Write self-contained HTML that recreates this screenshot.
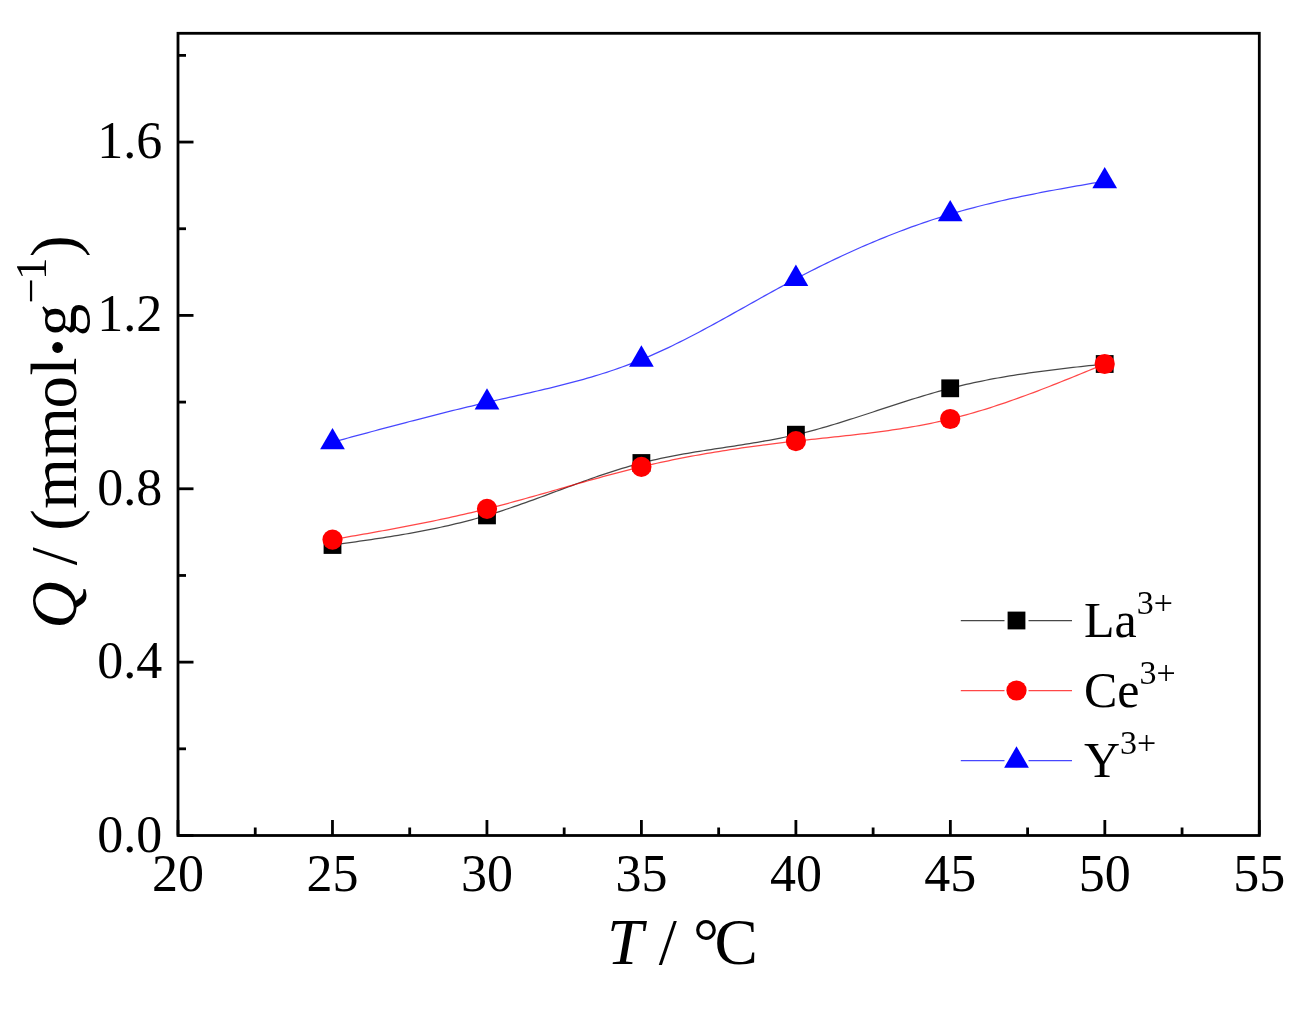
<!DOCTYPE html>
<html><head><meta charset="utf-8"><style>
html,body{margin:0;padding:0;background:#fff;width:1314px;height:1011px;overflow:hidden}
svg{position:absolute;left:0;top:0;will-change:transform}
.t{font-family:"Liberation Serif",serif;font-size:52px;fill:#000}
.sup{font-size:34px}
.lg{font-family:"Liberation Serif",serif;font-size:50px;fill:#000}
.ti{font-family:"Liberation Serif",serif;font-size:65px;fill:#000}
.sup2{font-size:45px}
</style></head><body>
<svg width="1314" height="1011" viewBox="0 0 1314 1011">
<rect x="178.0" y="33.3" width="1081.3" height="802.2" fill="none" stroke="#000" stroke-width="2.8"/>
<line x1="178.00" y1="835.5" x2="178.00" y2="820.0" stroke="#000" stroke-width="2.8"/>
<line x1="332.47" y1="835.5" x2="332.47" y2="820.0" stroke="#000" stroke-width="2.8"/>
<line x1="486.94" y1="835.5" x2="486.94" y2="820.0" stroke="#000" stroke-width="2.8"/>
<line x1="641.41" y1="835.5" x2="641.41" y2="820.0" stroke="#000" stroke-width="2.8"/>
<line x1="795.89" y1="835.5" x2="795.89" y2="820.0" stroke="#000" stroke-width="2.8"/>
<line x1="950.36" y1="835.5" x2="950.36" y2="820.0" stroke="#000" stroke-width="2.8"/>
<line x1="1104.83" y1="835.5" x2="1104.83" y2="820.0" stroke="#000" stroke-width="2.8"/>
<line x1="1259.30" y1="835.5" x2="1259.30" y2="820.0" stroke="#000" stroke-width="2.8"/>
<line x1="255.24" y1="835.5" x2="255.24" y2="827.5" stroke="#000" stroke-width="2.8"/>
<line x1="409.71" y1="835.5" x2="409.71" y2="827.5" stroke="#000" stroke-width="2.8"/>
<line x1="564.18" y1="835.5" x2="564.18" y2="827.5" stroke="#000" stroke-width="2.8"/>
<line x1="718.65" y1="835.5" x2="718.65" y2="827.5" stroke="#000" stroke-width="2.8"/>
<line x1="873.12" y1="835.5" x2="873.12" y2="827.5" stroke="#000" stroke-width="2.8"/>
<line x1="1027.59" y1="835.5" x2="1027.59" y2="827.5" stroke="#000" stroke-width="2.8"/>
<line x1="1182.06" y1="835.5" x2="1182.06" y2="827.5" stroke="#000" stroke-width="2.8"/>
<line x1="178.0" y1="835.50" x2="193.5" y2="835.50" stroke="#000" stroke-width="2.8"/>
<line x1="178.0" y1="662.14" x2="193.5" y2="662.14" stroke="#000" stroke-width="2.8"/>
<line x1="178.0" y1="488.78" x2="193.5" y2="488.78" stroke="#000" stroke-width="2.8"/>
<line x1="178.0" y1="315.42" x2="193.5" y2="315.42" stroke="#000" stroke-width="2.8"/>
<line x1="178.0" y1="142.06" x2="193.5" y2="142.06" stroke="#000" stroke-width="2.8"/>
<line x1="178.0" y1="748.82" x2="186.0" y2="748.82" stroke="#000" stroke-width="2.8"/>
<line x1="178.0" y1="575.46" x2="186.0" y2="575.46" stroke="#000" stroke-width="2.8"/>
<line x1="178.0" y1="402.10" x2="186.0" y2="402.10" stroke="#000" stroke-width="2.8"/>
<line x1="178.0" y1="228.74" x2="186.0" y2="228.74" stroke="#000" stroke-width="2.8"/>
<line x1="178.0" y1="55.38" x2="186.0" y2="55.38" stroke="#000" stroke-width="2.8"/>
<text x="178.00" y="891.4" text-anchor="middle" class="t">20</text>
<text x="332.47" y="891.4" text-anchor="middle" class="t">25</text>
<text x="486.94" y="891.4" text-anchor="middle" class="t">30</text>
<text x="641.41" y="891.4" text-anchor="middle" class="t">35</text>
<text x="795.89" y="891.4" text-anchor="middle" class="t">40</text>
<text x="950.36" y="891.4" text-anchor="middle" class="t">45</text>
<text x="1104.83" y="891.4" text-anchor="middle" class="t">50</text>
<text x="1259.30" y="891.4" text-anchor="middle" class="t">55</text>
<text x="162.3" y="851.50" text-anchor="end" class="t">0.0</text>
<text x="162.3" y="678.14" text-anchor="end" class="t">0.4</text>
<text x="162.3" y="504.78" text-anchor="end" class="t">0.8</text>
<text x="162.3" y="331.42" text-anchor="end" class="t">1.2</text>
<text x="162.3" y="158.06" text-anchor="end" class="t">1.6</text>
<path d="M332.50,545.00 L336.36,544.47 L340.23,543.93 L344.09,543.40 L347.95,542.86 L351.81,542.32 L355.68,541.78 L359.54,541.23 L363.40,540.67 L367.26,540.11 L371.12,539.55 L374.99,538.97 L378.85,538.39 L382.71,537.79 L386.57,537.19 L390.44,536.58 L394.30,535.95 L398.16,535.31 L402.02,534.66 L405.89,534.00 L409.75,533.31 L413.61,532.62 L417.48,531.91 L421.34,531.18 L425.20,530.43 L429.06,529.66 L432.93,528.88 L436.79,528.07 L440.65,527.25 L444.51,526.40 L448.38,525.53 L452.24,524.63 L456.10,523.71 L459.96,522.77 L463.82,521.80 L467.69,520.80 L471.55,519.78 L475.41,518.73 L479.27,517.65 L483.14,516.54 L487.00,515.40 L490.86,514.23 L494.72,513.03 L498.58,511.80 L502.44,510.55 L506.30,509.27 L510.16,507.98 L514.02,506.66 L517.88,505.32 L521.74,503.96 L525.60,502.59 L529.46,501.21 L533.32,499.81 L537.18,498.40 L541.04,496.99 L544.90,495.57 L548.76,494.14 L552.62,492.71 L556.48,491.28 L560.34,489.85 L564.20,488.42 L568.06,487.00 L571.92,485.58 L575.78,484.17 L579.64,482.76 L583.50,481.37 L587.36,479.99 L591.22,478.63 L595.08,477.28 L598.94,475.95 L602.80,474.64 L606.66,473.35 L610.52,472.09 L614.38,470.84 L618.24,469.63 L622.10,468.44 L625.96,467.29 L629.82,466.16 L633.68,465.07 L637.54,464.02 L641.40,463.00 L645.26,462.02 L649.12,461.08 L652.99,460.17 L656.85,459.29 L660.71,458.45 L664.57,457.64 L668.44,456.85 L672.30,456.09 L676.16,455.36 L680.02,454.65 L683.89,453.96 L687.75,453.28 L691.61,452.63 L695.48,451.99 L699.34,451.36 L703.20,450.75 L707.06,450.14 L710.92,449.54 L714.79,448.95 L718.65,448.37 L722.51,447.78 L726.38,447.20 L730.24,446.61 L734.10,446.02 L737.96,445.43 L741.82,444.83 L745.69,444.22 L749.55,443.60 L753.41,442.97 L757.27,442.32 L761.14,441.66 L765.00,440.98 L768.86,440.29 L772.72,439.57 L776.59,438.82 L780.45,438.06 L784.31,437.26 L788.17,436.44 L792.04,435.59 L795.90,434.70 L799.76,433.78 L803.62,432.83 L807.47,431.85 L811.33,430.84 L815.19,429.80 L819.04,428.74 L822.90,427.65 L826.76,426.54 L830.62,425.40 L834.48,424.25 L838.33,423.08 L842.19,421.89 L846.05,420.69 L849.90,419.47 L853.76,418.24 L857.62,417.00 L861.48,415.76 L865.34,414.50 L869.19,413.24 L873.05,411.98 L876.91,410.71 L880.76,409.44 L884.62,408.18 L888.48,406.91 L892.34,405.65 L896.20,404.40 L900.05,403.15 L903.91,401.91 L907.77,400.68 L911.62,399.47 L915.48,398.26 L919.34,397.08 L923.20,395.90 L927.06,394.75 L930.91,393.62 L934.77,392.50 L938.63,391.42 L942.49,390.35 L946.34,389.31 L950.20,388.30 L954.16,387.29 L958.12,386.31 L962.08,385.36 L966.05,384.44 L970.01,383.55 L973.97,382.68 L977.93,381.84 L981.89,381.03 L985.85,380.24 L989.82,379.47 L993.78,378.73 L997.74,378.01 L1001.70,377.31 L1005.66,376.63 L1009.62,375.97 L1013.58,375.32 L1017.55,374.70 L1021.51,374.10 L1025.47,373.51 L1029.43,372.93 L1033.39,372.38 L1037.35,371.83 L1041.32,371.30 L1045.28,370.78 L1049.24,370.28 L1053.20,369.78 L1057.16,369.30 L1061.12,368.82 L1065.08,368.36 L1069.05,367.90 L1073.01,367.45 L1076.97,367.00 L1080.93,366.56 L1084.89,366.13 L1088.85,365.70 L1092.82,365.27 L1096.78,364.85 L1100.74,364.42 L1104.70,364.00" fill="none" stroke="#000" stroke-width="1.25" stroke-opacity="0.72"/>
<rect x="323.60" y="536.10" width="17.8" height="17.8" fill="#000"/>
<rect x="478.10" y="506.50" width="17.8" height="17.8" fill="#000"/>
<rect x="632.50" y="454.10" width="17.8" height="17.8" fill="#000"/>
<rect x="787.00" y="425.80" width="17.8" height="17.8" fill="#000"/>
<rect x="941.30" y="379.40" width="17.8" height="17.8" fill="#000"/>
<rect x="1095.80" y="355.10" width="17.8" height="17.8" fill="#000"/>
<path d="M332.50,539.60 L336.36,538.93 L340.23,538.26 L344.09,537.58 L347.95,536.91 L351.81,536.24 L355.68,535.56 L359.54,534.88 L363.40,534.20 L367.26,533.51 L371.12,532.83 L374.99,532.14 L378.85,531.44 L382.71,530.74 L386.57,530.03 L390.44,529.32 L394.30,528.61 L398.16,527.89 L402.02,527.16 L405.89,526.42 L409.75,525.68 L413.61,524.93 L417.48,524.18 L421.34,523.41 L425.20,522.64 L429.06,521.86 L432.93,521.06 L436.79,520.26 L440.65,519.45 L444.51,518.63 L448.38,517.80 L452.24,516.95 L456.10,516.10 L459.96,515.23 L463.82,514.35 L467.69,513.46 L471.55,512.56 L475.41,511.64 L479.27,510.71 L483.14,509.76 L487.00,508.80 L490.86,507.83 L494.72,506.84 L498.58,505.84 L502.44,504.82 L506.30,503.80 L510.16,502.76 L514.02,501.71 L517.88,500.66 L521.74,499.59 L525.60,498.52 L529.46,497.44 L533.32,496.36 L537.18,495.27 L541.04,494.17 L544.90,493.08 L548.76,491.98 L552.62,490.87 L556.48,489.77 L560.34,488.67 L564.20,487.56 L568.06,486.46 L571.92,485.36 L575.78,484.26 L579.64,483.17 L583.50,482.08 L587.36,480.99 L591.22,479.91 L595.08,478.84 L598.94,477.78 L602.80,476.72 L606.66,475.67 L610.52,474.64 L614.38,473.61 L618.24,472.60 L622.10,471.60 L625.96,470.61 L629.82,469.63 L633.68,468.67 L637.54,467.73 L641.40,466.80 L645.26,465.89 L649.12,464.99 L652.99,464.12 L656.85,463.25 L660.71,462.41 L664.57,461.58 L668.44,460.77 L672.30,459.97 L676.16,459.19 L680.02,458.42 L683.89,457.67 L687.75,456.93 L691.61,456.20 L695.48,455.49 L699.34,454.80 L703.20,454.11 L707.06,453.44 L710.92,452.78 L714.79,452.14 L718.65,451.51 L722.51,450.89 L726.38,450.28 L730.24,449.68 L734.10,449.10 L737.96,448.53 L741.82,447.96 L745.69,447.41 L749.55,446.87 L753.41,446.34 L757.27,445.82 L761.14,445.31 L765.00,444.81 L768.86,444.31 L772.72,443.83 L776.59,443.35 L780.45,442.89 L784.31,442.43 L788.17,441.98 L792.04,441.54 L795.90,441.10 L799.76,440.67 L803.62,440.25 L807.47,439.83 L811.33,439.42 L815.19,439.01 L819.04,438.61 L822.90,438.20 L826.76,437.80 L830.62,437.39 L834.48,436.98 L838.33,436.57 L842.19,436.16 L846.05,435.74 L849.90,435.31 L853.76,434.88 L857.62,434.44 L861.48,433.99 L865.34,433.54 L869.19,433.07 L873.05,432.59 L876.91,432.09 L880.76,431.59 L884.62,431.07 L888.48,430.53 L892.34,429.98 L896.20,429.41 L900.05,428.82 L903.91,428.21 L907.77,427.58 L911.62,426.92 L915.48,426.25 L919.34,425.55 L923.20,424.83 L927.06,424.08 L930.91,423.31 L934.77,422.50 L938.63,421.67 L942.49,420.81 L946.34,419.92 L950.20,419.00 L954.16,418.02 L958.12,417.00 L962.08,415.96 L966.05,414.88 L970.01,413.77 L973.97,412.63 L977.93,411.46 L981.89,410.26 L985.85,409.04 L989.82,407.79 L993.78,406.51 L997.74,405.21 L1001.70,403.89 L1005.66,402.54 L1009.62,401.17 L1013.58,399.78 L1017.55,398.37 L1021.51,396.94 L1025.47,395.49 L1029.43,394.03 L1033.39,392.55 L1037.35,391.05 L1041.32,389.53 L1045.28,388.01 L1049.24,386.47 L1053.20,384.91 L1057.16,383.35 L1061.12,381.77 L1065.08,380.19 L1069.05,378.59 L1073.01,376.99 L1076.97,375.38 L1080.93,373.77 L1084.89,372.15 L1088.85,370.52 L1092.82,368.90 L1096.78,367.27 L1100.74,365.63 L1104.70,364.00" fill="none" stroke="#f00" stroke-width="1.25" stroke-opacity="0.72"/>
<circle cx="332.50" cy="539.60" r="10.1" fill="#f00"/>
<circle cx="487.00" cy="508.80" r="10.1" fill="#f00"/>
<circle cx="641.40" cy="466.80" r="10.1" fill="#f00"/>
<circle cx="795.90" cy="441.10" r="10.1" fill="#f00"/>
<circle cx="950.20" cy="419.00" r="10.1" fill="#f00"/>
<circle cx="1104.70" cy="364.00" r="10.1" fill="#f00"/>
<path d="M332.50,442.20 L336.36,441.15 L340.23,440.11 L344.09,439.06 L347.95,438.01 L351.81,436.97 L355.68,435.93 L359.54,434.88 L363.40,433.84 L367.26,432.80 L371.12,431.76 L374.99,430.73 L378.85,429.69 L382.71,428.66 L386.57,427.63 L390.44,426.61 L394.30,425.58 L398.16,424.56 L402.02,423.55 L405.89,422.53 L409.75,421.52 L413.61,420.52 L417.48,419.52 L421.34,418.52 L425.20,417.52 L429.06,416.54 L432.93,415.55 L436.79,414.57 L440.65,413.60 L444.51,412.63 L448.38,411.67 L452.24,410.71 L456.10,409.76 L459.96,408.82 L463.82,407.88 L467.69,406.95 L471.55,406.03 L475.41,405.11 L479.27,404.20 L483.14,403.30 L487.00,402.40 L490.86,401.51 L494.72,400.63 L498.58,399.76 L502.44,398.89 L506.30,398.02 L510.16,397.15 L514.02,396.28 L517.88,395.41 L521.74,394.54 L525.60,393.67 L529.46,392.79 L533.32,391.91 L537.18,391.01 L541.04,390.11 L544.90,389.20 L548.76,388.28 L552.62,387.35 L556.48,386.40 L560.34,385.44 L564.20,384.46 L568.06,383.47 L571.92,382.45 L575.78,381.42 L579.64,380.36 L583.50,379.29 L587.36,378.19 L591.22,377.06 L595.08,375.91 L598.94,374.73 L602.80,373.52 L606.66,372.29 L610.52,371.02 L614.38,369.72 L618.24,368.38 L622.10,367.01 L625.96,365.61 L629.82,364.17 L633.68,362.68 L637.54,361.16 L641.40,359.60 L645.26,357.99 L649.12,356.35 L652.99,354.66 L656.85,352.94 L660.71,351.18 L664.57,349.39 L668.44,347.56 L672.30,345.70 L676.16,343.81 L680.02,341.89 L683.89,339.95 L687.75,337.98 L691.61,335.98 L695.48,333.97 L699.34,331.93 L703.20,329.88 L707.06,327.80 L710.92,325.71 L714.79,323.61 L718.65,321.49 L722.51,319.36 L726.38,317.22 L730.24,315.08 L734.10,312.92 L737.96,310.76 L741.82,308.60 L745.69,306.44 L749.55,304.27 L753.41,302.11 L757.27,299.94 L761.14,297.79 L765.00,295.63 L768.86,293.49 L772.72,291.35 L776.59,289.22 L780.45,287.11 L784.31,285.01 L788.17,282.92 L792.04,280.85 L795.90,278.80 L799.76,276.77 L803.62,274.76 L807.47,272.77 L811.33,270.80 L815.19,268.85 L819.04,266.92 L822.90,265.01 L826.76,263.12 L830.62,261.25 L834.48,259.40 L838.33,257.57 L842.19,255.76 L846.05,253.98 L849.90,252.21 L853.76,250.47 L857.62,248.75 L861.48,247.04 L865.34,245.37 L869.19,243.71 L873.05,242.07 L876.91,240.46 L880.76,238.87 L884.62,237.30 L888.48,235.76 L892.34,234.23 L896.20,232.73 L900.05,231.26 L903.91,229.80 L907.77,228.37 L911.62,226.96 L915.48,225.58 L919.34,224.22 L923.20,222.88 L927.06,221.57 L930.91,220.28 L934.77,219.02 L938.63,217.78 L942.49,216.56 L946.34,215.37 L950.20,214.20 L954.16,213.03 L958.12,211.88 L962.08,210.76 L966.05,209.66 L970.01,208.58 L973.97,207.53 L977.93,206.50 L981.89,205.49 L985.85,204.50 L989.82,203.54 L993.78,202.59 L997.74,201.66 L1001.70,200.75 L1005.66,199.85 L1009.62,198.97 L1013.58,198.11 L1017.55,197.27 L1021.51,196.44 L1025.47,195.62 L1029.43,194.82 L1033.39,194.02 L1037.35,193.25 L1041.32,192.48 L1045.28,191.72 L1049.24,190.97 L1053.20,190.24 L1057.16,189.51 L1061.12,188.79 L1065.08,188.07 L1069.05,187.37 L1073.01,186.67 L1076.97,185.97 L1080.93,185.28 L1084.89,184.60 L1088.85,183.91 L1092.82,183.23 L1096.78,182.55 L1100.74,181.88 L1104.70,181.20" fill="none" stroke="#00f" stroke-width="1.25" stroke-opacity="0.72"/>
<path d="M332.50,427.93 L344.86,449.33 L320.14,449.33 Z" fill="#00f"/>
<path d="M487.00,388.13 L499.36,409.53 L474.64,409.53 Z" fill="#00f"/>
<path d="M641.40,345.33 L653.76,366.74 L629.04,366.74 Z" fill="#00f"/>
<path d="M795.90,264.53 L808.26,285.94 L783.54,285.94 Z" fill="#00f"/>
<path d="M950.20,199.93 L962.56,221.33 L937.84,221.33 Z" fill="#00f"/>
<path d="M1104.70,166.93 L1117.06,188.33 L1092.34,188.33 Z" fill="#00f"/>
<line x1="960.8" y1="620.5" x2="1004.5" y2="620.5" stroke="#000" stroke-width="1.25" stroke-opacity="0.72"/>
<line x1="1028.5" y1="620.5" x2="1072" y2="620.5" stroke="#000" stroke-width="1.25" stroke-opacity="0.72"/>
<rect x="1007.60" y="611.60" width="17.8" height="17.8" fill="#000"/>
<text x="1084" y="637.10" class="lg">La<tspan class="sup" dy="-23">3+</tspan></text>
<line x1="960.8" y1="690.5" x2="1004.5" y2="690.5" stroke="#f00" stroke-width="1.25" stroke-opacity="0.72"/>
<line x1="1028.5" y1="690.5" x2="1072" y2="690.5" stroke="#f00" stroke-width="1.25" stroke-opacity="0.72"/>
<circle cx="1016.50" cy="690.50" r="10.1" fill="#f00"/>
<text x="1084" y="707.10" class="lg">Ce<tspan class="sup" dy="-23">3+</tspan></text>
<line x1="960.8" y1="760.5" x2="1004.5" y2="760.5" stroke="#00f" stroke-width="1.25" stroke-opacity="0.72"/>
<line x1="1028.5" y1="760.5" x2="1072" y2="760.5" stroke="#00f" stroke-width="1.25" stroke-opacity="0.72"/>
<path d="M1016.50,746.23 L1028.86,767.63 L1004.14,767.63 Z" fill="#00f"/>
<text x="1084" y="777.10" class="lg">Y<tspan class="sup" dy="-23">3+</tspan></text>
<text x="606.9" y="963.8" class="ti" font-style="italic">T</text>
<text x="658.7" y="963.8" class="ti">/</text>
<text x="693.0" y="963.8" class="ti">°</text>
<text x="714.6" y="963.8" class="ti">C</text>
<text transform="translate(76.0,628.4) rotate(-90)" class="ti" font-style="italic">Q</text>
<text transform="translate(76.0,565.3) rotate(-90)" class="ti">/</text>
<text transform="translate(76.0,530.7) rotate(-90)" class="ti">(</text>
<text transform="translate(76.0,508.7) rotate(-90)" class="ti">m</text>
<text transform="translate(76.0,457.85) rotate(-90)" class="ti">m</text>
<text transform="translate(76.0,408.45) rotate(-90)" class="ti">o</text>
<text transform="translate(76.0,375.5) rotate(-90)" class="ti">l</text>
<text transform="translate(76.0,336.15) rotate(-90)" class="ti">g</text>
<text transform="translate(76.0,257.1) rotate(-90)" class="ti">)</text>
<circle cx="57.6" cy="347.5" r="5.4" fill="#000"/>
<text transform="translate(46.4,303.5) rotate(-90)" class="ti sup2">−</text>
<text transform="translate(46.4,279.9) rotate(-90)" class="ti sup2">1</text>
</svg></body></html>
